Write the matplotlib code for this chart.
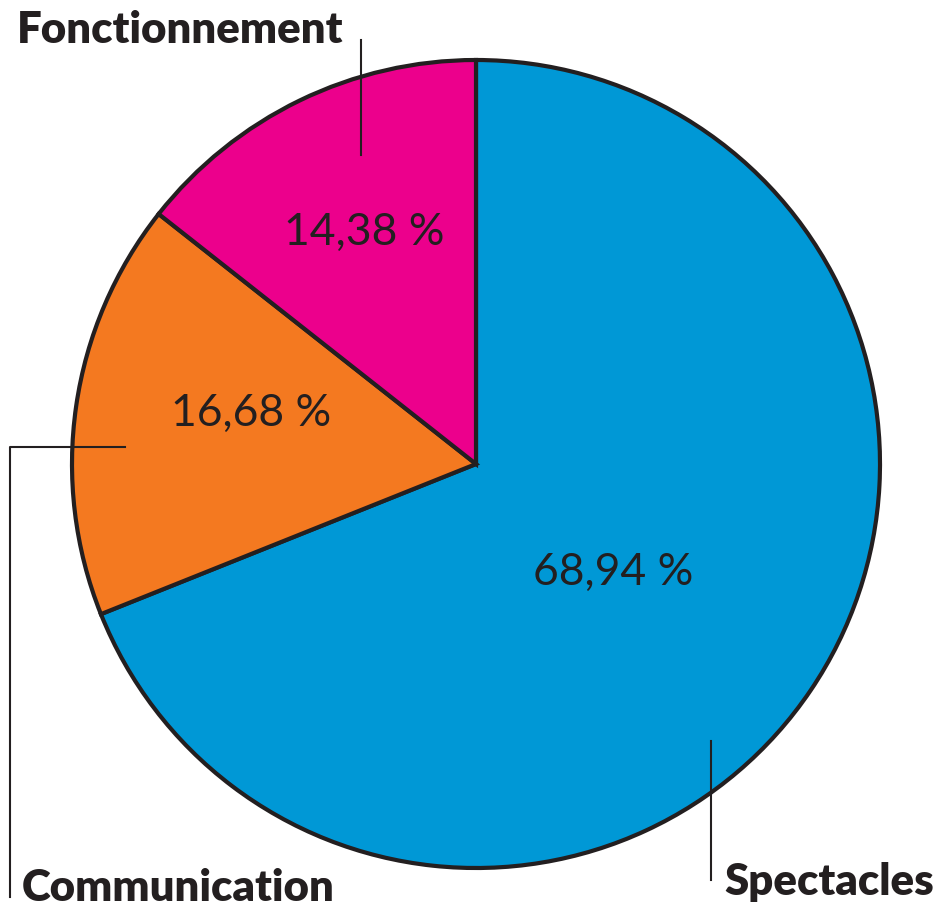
import matplotlib
matplotlib.use("Agg")
import matplotlib.pyplot as plt

categories = ["Spectacles", "Communication", "Fonctionnement"]
values = [68.94, 16.68, 14.38]
pct_labels = ["68,94 %", "16,68 %", "14,38 %"]
colors = ["#0098D6", "#F47920", "#EC008C"]
ink = "#231F20"

W, H = 937, 910
fig = plt.figure(figsize=(W / 100, H / 100), dpi=100)
ax = fig.add_axes([0, 0, 1, 1])

cx, cy, R = 476, 464, 404  # pixel centre and radius of the pie
ax.pie(values, colors=colors, startangle=90, counterclock=False, radius=1,
       wedgeprops=dict(edgecolor=ink, linewidth=3.0))
ax.set_xlim(-cx / R, (W - cx) / R)
ax.set_ylim(-(H - cy) / R, cy / R)
ax.set_aspect("auto")
ax.axis("off")

def px(x, y):
    return (x - cx) / R, (cy - y) / R

pct_font = dict(family=["Lato", "DejaVu Sans"], fontsize=32, color=ink,
                ha="center", va="center")
pct_pos = [(613, 572), (251, 413), (364, 232)]
for lab, (x, y) in zip(pct_labels, pct_pos):
    ax.text(*px(x, y), lab, **pct_font)

lab_font = dict(family=["Lato", "DejaVu Sans"], fontsize=31.5, fontweight="heavy",
                color=ink, va="baseline", ha="left")

# leader lines
lw = 1.5
x0, y0 = px(361, 40); x1, y1 = px(361, 155)
ax.plot([x0, x1], [y0, y1], color=ink, lw=lw)
a = px(125, 447); b = px(10, 447); c = px(10, 897)
ax.plot([a[0], b[0], c[0]], [a[1], b[1], c[1]], color=ink, lw=lw)
d = px(711, 741); e = px(711, 880)
ax.plot([d[0], e[0]], [d[1], e[1]], color=ink, lw=lw)

ax.text(*px(17, 43), categories[2], **lab_font)
ax.text(*px(22, 901), categories[1], **lab_font)
ax.text(*px(724, 895), categories[0], **lab_font)

fig.savefig("out.png", dpi=100)
